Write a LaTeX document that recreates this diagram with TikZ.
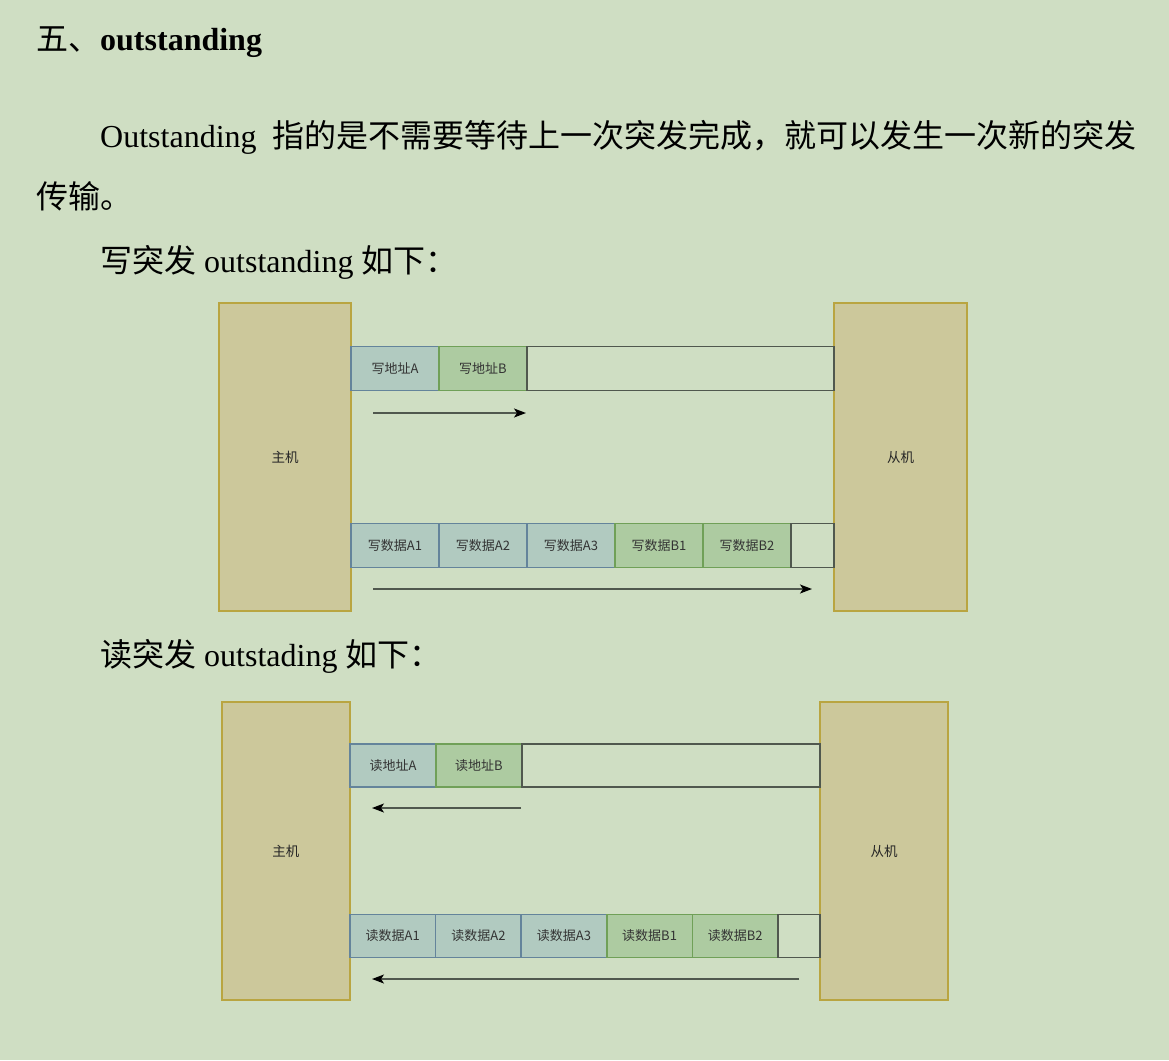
\documentclass[tikz,border=0pt]{standalone}
\usepackage{fontspec}
\setmainfont{Liberation Serif}
\newfontfamily\cjk{Noto Sans CJK SC}
\usetikzlibrary{arrows.meta,positioning}
\definecolor{pagebg}{RGB}{207,222,195}
\definecolor{hostfill}{RGB}{204,200,155}
\definecolor{hostline}{RGB}{185,165,65}
\definecolor{afill}{RGB}{177,202,192}
\definecolor{aline}{RGB}{100,132,155}
\definecolor{bfill}{RGB}{173,203,161}
\definecolor{bline}{RGB}{112,160,88}
\definecolor{qline}{RGB}{80,88,78}
\tikzset{>={Stealth[length=12pt,width=9pt,inset=3pt,black]}}
\tikzset{hostbox/.style={draw=hostline, fill=hostfill, line width=1.5pt, inner sep=0pt, outer sep=0pt,
    text=black!85, font=\fontsize{13.5}{14}\selectfont\cjk}}
\tikzset{cell/.style={draw, line width=1.5pt, minimum height=44pt, minimum width=88pt, inner sep=0pt, outer sep=0pt,
    text=black!80, font=\fontsize{13}{14}\selectfont\cjk}}
\tikzset{acell/.style={cell, draw=aline, fill=afill}}
\tikzset{bcell/.style={cell, draw=bline, fill=bfill}}
\tikzset{qcell/.style={cell, draw=qline}}
\tikzset{rsize/.style={minimum width=#1, minimum height=43pt}}
\tikzset{flow/.style={draw=qline, line width=1.5pt}}
\tikzset{para/.style={anchor=base west, inner sep=0pt, font=\fontsize{32}{38}\selectfont}}

\begin{document}
\begin{tikzpicture}[x=1pt,y=-1pt]
  \fill[pagebg] (0,0) rectangle (1169,1060);
  \useasboundingbox (0,0) rectangle (1169,1060);
  % text
  \node[para] (title) at (36,50) {{\cjk 五、}\textbf{outstanding}};
  \node[para] (p1a) at (100,147) {Outstanding};
  \node[para] (p1b) at (272,147) {\cjk 指的是不需要等待上一次突发完成，就可以发生一次新的突发};
  \node[para] (p2) at (36,208) {\cjk 传输。};
  \node[para] (wtitle) at (100,272) {{\cjk 写突发} outstanding {\cjk 如下：}};
  \node[para] (rtitle) at (100,666) {{\cjk 读突发} outstading {\cjk 如下：}};

  % write burst
  \node[hostbox, minimum width=132pt, minimum height=308pt] (wm) at (285,457) {主机};
  \node[hostbox, minimum width=133pt, minimum height=308pt] (ws) at (900.5,457) {从机};
  \node[acell, anchor=west] (wa) at (351,368.7) {写地址A};
  \node[bcell, right=0pt of wa] (wb) {写地址B};
  \node[qcell, minimum width=307pt, right=0pt of wb] (wq) {};
  \node[acell, anchor=west] (wd1) at (351,545.3) {写数据A1};
  \node[acell, right=0pt of wd1] (wd2) {写数据A2};
  \node[acell, right=0pt of wd2] (wd3) {写数据A3};
  \node[bcell, right=0pt of wd3] (wd4) {写数据B1};
  \node[bcell, right=0pt of wd4] (wd5) {写数据B2};
  \node[qcell, minimum width=43pt, right=0pt of wd5] (wdq) {};
  \coordinate (wa0) at (373,413);
  \coordinate (wa9) at (526,413);
  \coordinate (wd0) at (373,589);
  \coordinate (wd9) at (812,589);
  \draw[flow,->] (wa0) -- (wa9);
  \draw[flow,->] (wd0) -- (wd9);

  % read burst
  \node[hostbox, minimum width=128pt, minimum height=298pt] (rm) at (285.8,851) {主机};
  \node[hostbox, minimum width=128pt, minimum height=298pt] (rs) at (884,851) {从机};
  \node[acell, rsize=86pt, anchor=west] (ra) at (350,765.5) {读地址A};
  \node[bcell, rsize=86pt, right=0pt of ra] (rb) {读地址B};
  \node[qcell, rsize=298pt, right=0pt of rb] (rq) {};
  \node[acell, rsize=85.6pt, anchor=west] (rd1) at (350,936) {读数据A1};
  \node[acell, rsize=85.6pt, right=0pt of rd1] (rd2) {读数据A2};
  \node[acell, rsize=85.6pt, right=0pt of rd2] (rd3) {读数据A3};
  \node[bcell, rsize=85.6pt, right=0pt of rd3] (rd4) {读数据B1};
  \node[bcell, rsize=85.6pt, right=0pt of rd4] (rd5) {读数据B2};
  \node[qcell, rsize=42pt, right=0pt of rd5] (rdq) {};
  \coordinate (ra0) at (521,808);
  \coordinate (ra9) at (372,808);
  \coordinate (rd0) at (799,979);
  \coordinate (rd9) at (372,979);
  \draw[flow,->] (ra0) -- (ra9);
  \draw[flow,->] (rd0) -- (rd9);
\end{tikzpicture}
\end{document}
